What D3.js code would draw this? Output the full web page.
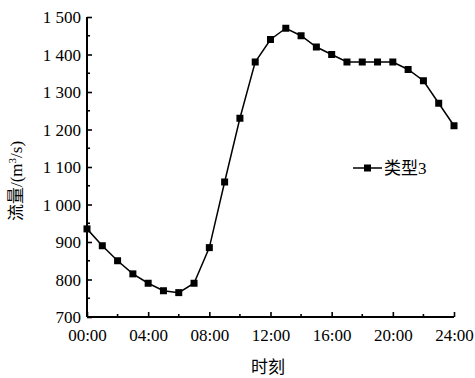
<!DOCTYPE html>
<html>
<head>
<meta charset="utf-8">
<script src="https://cdn.jsdelivr.net/npm/d3@7"></script>
<style>
  html, body { margin: 0; padding: 0; background: #fff; }
  svg { display: block; }
  text { fill: #000; }
  .num { font-family: "Liberation Serif", "Times New Roman", "DejaVu Serif", serif; font-size: 17px; }
  .cjk { font-family: "Liberation Serif", "Noto Sans CJK SC", serif; font-size: 17px; }
</style>
</head>
<body>
<svg id="chart" width="475" height="378"></svg>
<script>
// Hourly discharge over one day, type 3
const hours = [0,1,2,3,4,5,6,7,8,9,10,11,12,13,14,15,16,17,18,19,20,21,22,23,24];
const flow = [935,890,850,815,790,770,765,790,885,1060,1230,1380,1440,1470,1450,1420,1400,1380,1380,1380,1380,1360,1330,1270,1210];
const xTicks = [0,4,8,12,16,20,24];
const xTickLabels = ["00:00","04:00","08:00","12:00","16:00","20:00","24:00"];
const yTicks = [700,800,900,1000,1100,1200,1300,1400,1500];
const yTickLabels = ["700","800","900","1 000","1 100","1 200","1 300","1 400","1 500"];
const seriesName = "类型3";

const svg = d3.select("#chart");
const plotL = 87, plotR = 454, plotT = 17, plotB = 317;

const x = d3.scaleLinear().domain([0, 24]).range([plotL, plotR]);
const y = d3.scaleLinear().domain([700, 1500]).range([plotB, plotT]);

// Axes with inward ticks
const xAxis = d3.axisBottom(x).tickValues(xTicks).tickSize(-5).tickPadding(10)
  .tickFormat((d, i) => xTickLabels[i]);
const yAxis = d3.axisLeft(y).tickValues(yTicks).tickSize(-5).tickPadding(6)
  .tickFormat((d, i) => yTickLabels[i]);

const gx = svg.append("g").attr("transform", `translate(0,${plotB})`).call(xAxis);
const gy = svg.append("g").attr("transform", `translate(${plotL},0)`).call(yAxis);

[gx, gy].forEach(g => {
  g.attr("font-family", null).attr("font-size", null);
  g.select(".domain").attr("stroke", "#000").attr("stroke-width", 2);
  g.selectAll(".tick line").attr("stroke", "#000").attr("stroke-width", 1.6);
  g.selectAll(".tick text").attr("class", "num").attr("fill", "#000");
});
gx.select(".domain").attr("d", `M${plotL},0H${plotR}`);
gy.select(".domain").attr("d", `M0,${plotB}V${plotT}`);
gy.selectAll(".tick text").attr("dy", "0.34em");
gx.selectAll(".tick text").attr("dy", "0.8em");

// Minor ticks
const xMinor = [2,6,10,14,18,22];
const yMinor = [750,850,950,1050,1150,1250,1350,1450];
svg.append("g").selectAll("line").data(xMinor).join("line")
  .attr("x1", d => x(d)).attr("x2", d => x(d))
  .attr("y1", plotB).attr("y2", plotB - 3)
  .attr("stroke", "#000").attr("stroke-width", 1.6);
svg.append("g").selectAll("line").data(yMinor).join("line")
  .attr("y1", d => y(d)).attr("y2", d => y(d))
  .attr("x1", plotL).attr("x2", plotL + 3)
  .attr("stroke", "#000").attr("stroke-width", 1.6);

// Series line and markers
const line = d3.line().x((d, i) => x(hours[i])).y(d => y(d));
svg.append("path").datum(flow).attr("d", line)
  .attr("fill", "none").attr("stroke", "#000").attr("stroke-width", 1.5);
const ms = 7;
svg.append("g").selectAll("rect").data(flow).join("rect")
  .attr("x", (d, i) => x(hours[i]) - ms / 2)
  .attr("y", d => y(d) - ms / 2)
  .attr("width", ms).attr("height", ms).attr("fill", "#000");

// Legend
const lg = svg.append("g").attr("transform", "translate(353,168)");
lg.append("line").attr("x1", 0).attr("x2", 29).attr("y1", 0).attr("y2", 0)
  .attr("stroke", "#000").attr("stroke-width", 1.5);
lg.append("rect").attr("x", 14.5 - ms / 2).attr("y", -ms / 2)
  .attr("width", ms).attr("height", ms).attr("fill", "#000");
lg.append("text").attr("class", "cjk").attr("x", 31).attr("y", 0).attr("dy", "0.36em")
  .text(seriesName);

// Axis titles
svg.append("text").attr("class", "cjk").attr("x", 268).attr("y", 373)
  .attr("text-anchor", "middle").text("时刻");
const yt = svg.append("text").attr("class", "cjk")
  .attr("transform", "translate(22,181) rotate(-90)")
  .attr("text-anchor", "middle");
yt.append("tspan").text("流量/(m");
yt.append("tspan").attr("font-size", 11).attr("dy", -6).text("3");
yt.append("tspan").attr("dy", 6).text("/s)");
</script>
</body>
</html>
